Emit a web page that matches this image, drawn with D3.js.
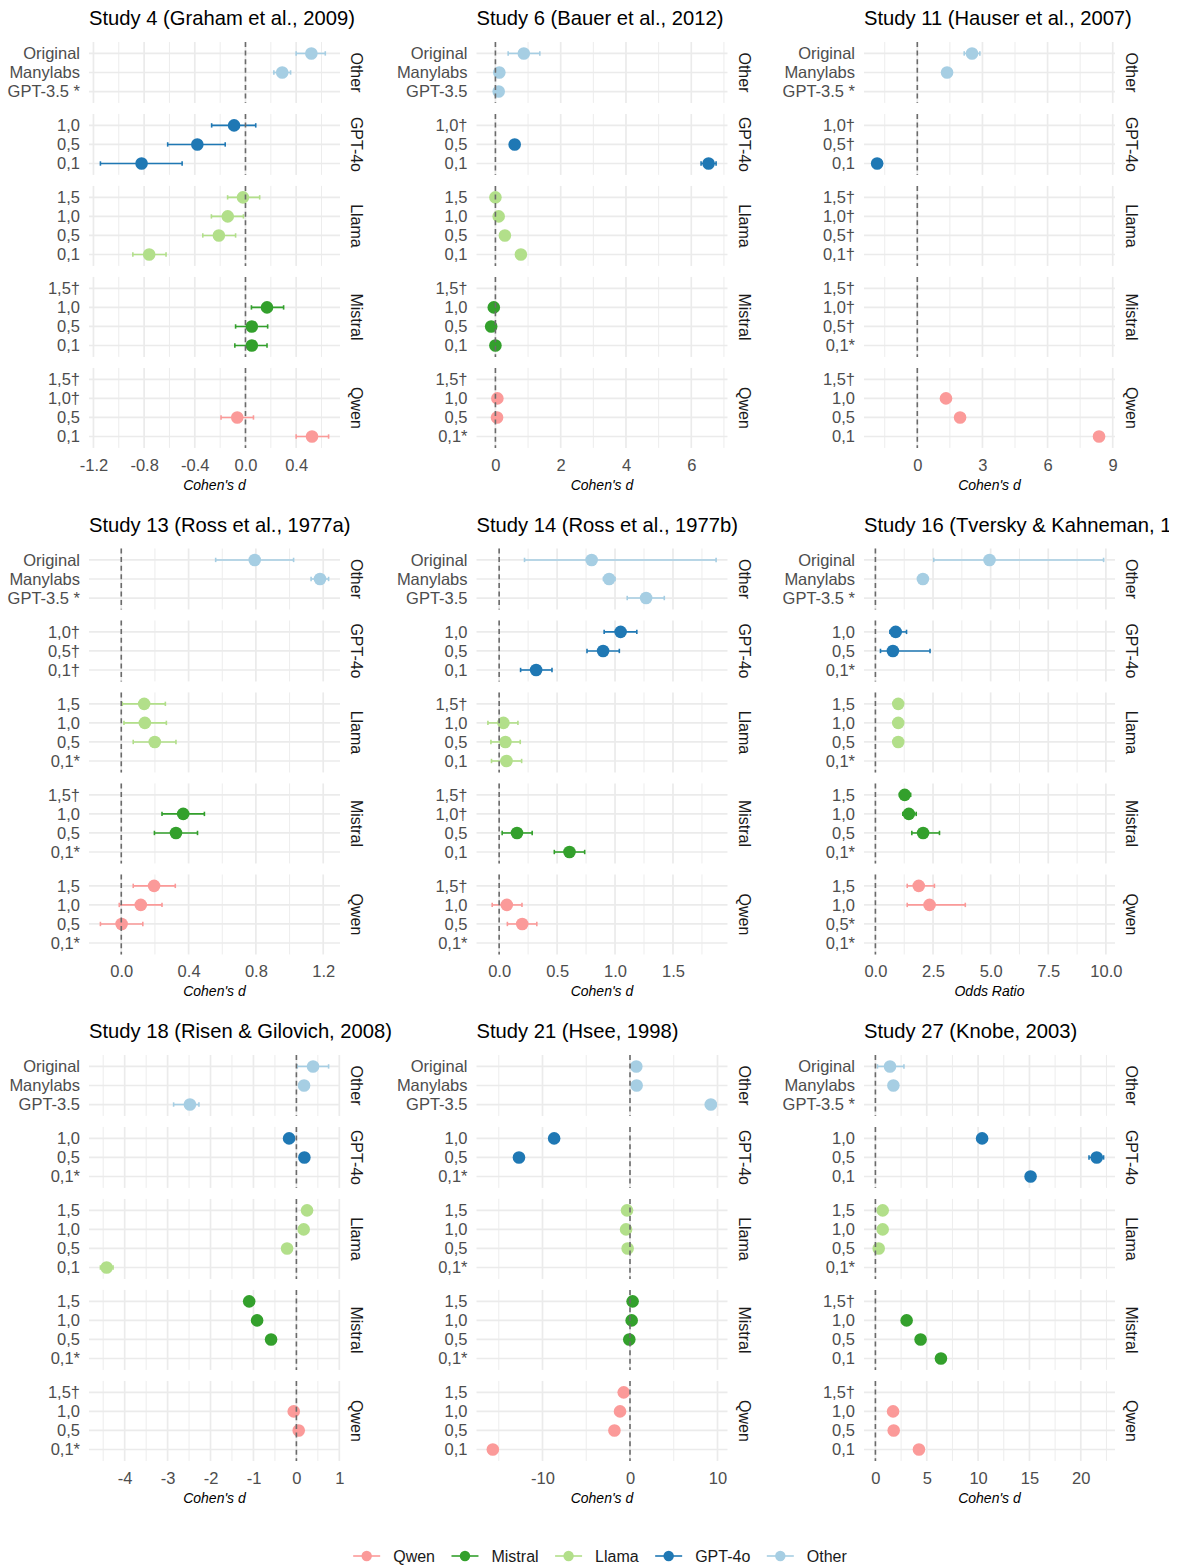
<!DOCTYPE html>
<html>
<head>
<meta charset="utf-8">
<script src="https://cdn.jsdelivr.net/npm/d3@7"></script>
<style>
  body { margin: 0; background: #fff; }
  text { font-family: "Liberation Sans", Arial, Helvetica, sans-serif; }
</style>
</head>
<body>
<svg id="chart" width="1181" height="1567"></svg>
<script>
// facets (top to bottom) and the conditions inside each facet (top to bottom)
const models = ["Other", "GPT-4o", "Llama", "Mistral", "Qwen"];
const levels = {
  "Other": ["Original", "Manylabs", "GPT-3.5"],
  "GPT-4o": ["1,0", "0,5", "0,1"],
  "Llama": ["1,5", "1,0", "0,5", "0,1"],
  "Mistral": ["1,5", "1,0", "0,5", "0,1"],
  "Qwen": ["1,5", "1,0", "0,5", "0,1"]
};
const colors = { "Qwen": "#FB9A99", "Mistral": "#33A02C", "Llama": "#B2DF8A", "GPT-4o": "#1F78B4", "Other": "#A6CEE3" };
const legendOrder = ["Qwen", "Mistral", "Llama", "GPT-4o", "Other"];

const titles = [
  "Study 4 (Graham et al., 2009)", "Study 6 (Bauer et al., 2012)", "Study 11 (Hauser et al., 2007)",
  "Study 13 (Ross et al., 1977a)", "Study 14 (Ross et al., 1977b)", "Study 16 (Tversky & Kahneman, 1974)",
  "Study 18 (Risen & Gilovich, 2008)", "Study 21 (Hsee, 1998)", "Study 27 (Knobe, 2003)"
];
const xTitles = ["Cohen's d", "Cohen's d", "Cohen's d", "Cohen's d", "Cohen's d", "Odds Ratio", "Cohen's d", "Cohen's d", "Cohen's d"];
const xTicks = [
  [-1.2, -0.8, -0.4, 0, 0.4], [0, 2, 4, 6], [0, 3, 6, 9],
  [0, 0.4, 0.8, 1.2], [0, 0.5, 1, 1.5], [0, 2.5, 5, 7.5, 10],
  [-4, -3, -2, -1, 0, 1], [-10, 0, 10], [0, 5, 10, 15, 20]
];
const xTickLabels = [
  ["-1.2", "-0.8", "-0.4", "0.0", "0.4"], ["0", "2", "4", "6"], ["0", "3", "6", "9"],
  ["0.0", "0.4", "0.8", "1.2"], ["0.0", "0.5", "1.0", "1.5"], ["0.0", "2.5", "5.0", "7.5", "10.0"],
  ["-4", "-3", "-2", "-1", "0", "1"], ["-10", "0", "10"], ["0", "5", "10", "15", "20"]
];

// 18 entries per study, order: Original, Manylabs, GPT-3.5 | GPT-4o 1,0 0,5 0,1 | Llama 1,5 1,0 0,5 0,1 | Mistral ... | Qwen ...
const suffixes = [
  ["", "", " *", "", "", "", "", "", "", "", "†", "", "", "", "†", "†", "", ""],
  ["", "", "", "†", "", "", "", "", "", "", "†", "", "", "", "†", "", "", "*"],
  ["", "", " *", "†", "†", "", "†", "†", "†", "†", "†", "†", "†", "*", "†", "", "", ""],
  ["", "", " *", "†", "†", "†", "", "", "", "*", "†", "", "", "*", "", "", "", "*"],
  ["", "", "", "", "", "", "†", "", "", "", "†", "†", "", "", "†", "", "", "*"],
  ["", "", " *", "", "", "*", "", "", "", "*", "", "", "", "*", "", "", "*", "*"],
  ["", "", "", "", "", "*", "", "", "", "", "", "", "", "*", "†", "", "", "*"],
  ["", "", "", "", "", "*", "", "", "", "*", "", "", "", "*", "", "", "", ""],
  ["", "", " *", "", "", "", "", "", "", "*", "†", "", "", "", "†", "", "", ""]
];
const estimates = [
  [0.52, 0.29, null, -0.09, -0.38, -0.82, -0.02, -0.14, -0.21, -0.76, null, 0.17, 0.05, 0.05, null, null, -0.065, 0.525],
  [0.87, 0.12, 0.10, null, 0.59, 6.53, 0.00, 0.10, 0.29, 0.78, null, -0.05, -0.13, 0.00, null, 0.06, 0.05, null],
  [2.52, 1.37, null, null, null, -1.85, null, null, null, null, null, null, null, null, null, 1.32, 1.97, 8.37],
  [0.793, 1.181, null, null, null, null, 0.136, 0.14, 0.199, null, null, 0.368, 0.325, null, 0.195, 0.116, 0.002, null],
  [0.798, 0.949, 1.268, 1.048, 0.897, 0.319, null, 0.037, 0.054, 0.063, null, null, 0.154, 0.607, null, 0.066, 0.199, null],
  [4.95, 2.06, null, 0.88, 0.76, null, 0.99, 0.99, 0.99, null, 1.27, 1.45, 2.07, null, 1.88, 2.35, null, null],
  [0.388, 0.178, -2.48, -0.17, 0.186, null, 0.248, 0.17, -0.217, -4.42, -1.10, -0.915, -0.59, null, null, -0.062, 0.054, null],
  [0.72, 0.76, 9.24, -8.67, -12.69, null, -0.34, -0.45, -0.27, null, 0.30, 0.19, -0.08, null, -0.72, -1.14, -1.78, -15.68],
  [1.42, 1.75, null, 10.39, 21.55, 15.11, 0.71, 0.71, 0.32, null, null, 3.04, 4.40, 6.38, null, 1.72, 1.78, 4.24]
];
const lower = [
  [0.40, 0.224, null, -0.267, -0.614, -1.145, -0.141, -0.269, -0.337, -0.889, null, 0.047, -0.078, -0.084, null, null, -0.193, 0.40],
  [0.39, null, null, null, null, 6.30, null, null, null, null, null, null, -0.23, null, null, null, null, null],
  [2.16, null, null, null, null, -1.93, null, null, null, null, null, null, null, null, null, null, null, 8.16],
  [0.561, 1.128, null, null, null, null, 0.006, 0.016, 0.071, null, null, 0.242, 0.197, null, 0.071, -0.012, -0.124, null],
  [0.219, 0.90, 1.105, 0.906, 0.758, 0.185, null, -0.097, -0.071, -0.066, null, null, 0.026, 0.476, null, -0.06, 0.071, null],
  [2.53, 1.9, null, 0.63, 0.22, null, null, null, null, null, 1.05, 1.19, 1.58, null, 1.38, 1.38, null, null],
  [0.02, null, -2.86, null, null, null, null, null, null, -4.565, null, null, null, null, null, null, null, null],
  [null, null, 8.64, null, null, null, null, null, null, null, null, null, null, null, null, null, null, -16.24],
  [0.2, null, null, null, 20.8, null, null, null, null, null, null, null, null, null, null, null, null, null]
];
const upper = [
  [0.63, 0.356, null, 0.081, -0.16, -0.50, 0.112, -0.016, -0.078, -0.627, null, 0.301, 0.175, 0.17, null, null, 0.063, 0.656],
  [1.36, null, null, null, null, 6.76, null, null, null, null, null, null, -0.03, null, null, null, null, null],
  [2.88, null, null, null, null, -1.76, null, null, null, null, null, null, null, null, null, null, null, 8.58],
  [1.024, 1.232, null, null, null, null, 0.262, 0.268, 0.325, null, null, 0.494, 0.453, null, 0.321, 0.242, 0.128, null],
  [1.872, 1.00, 1.425, 1.188, 1.037, 0.456, null, 0.162, 0.182, 0.194, null, null, 0.285, 0.738, null, 0.197, 0.325, null],
  [9.90, 2.2, null, 1.35, 2.37, null, null, null, null, null, 1.53, 1.77, 2.78, null, 2.56, 3.90, null, null],
  [0.75, null, -2.27, null, null, null, null, null, null, -4.27, null, null, null, null, null, null, null, null],
  [null, null, 9.84, null, null, null, null, null, null, null, null, null, null, null, null, null, null, -15.12],
  [2.78, null, null, null, 22.22, null, null, null, null, null, null, null, null, null, null, null, null, null]
];

const svg = d3.select("#chart");
const panelW = 251, unit = 19.05, facetGap = 11;
const colLeft = [89, 476.5, 864];
const rowTop = [42, 548.5, 1055];
const grid = "#EBEBEB";

const defs = svg.append("defs");

titles.forEach((title, s) => {
  const left = colLeft[s % 3], top = rowTop[Math.floor(s / 3)];

  let k = 0;
  const rows = [];
  models.forEach(m => levels[m].forEach(l => {
    rows.push({ model: m, level: l, est: estimates[s][k], lo: lower[s][k], hi: upper[s][k], suffix: suffixes[s][k] });
    k++;
  }));

  // x scale trained on points, intervals and the reference line, with 5% expansion
  const vals = [0];
  rows.forEach(r => [r.est, r.lo, r.hi].forEach(v => { if (v != null) vals.push(v); }));
  const [mn, mx] = d3.extent(vals);
  const pad = (mx - mn) * 0.05;
  const x = d3.scaleLinear().domain([mn - pad, mx + pad]).range([left, left + panelW]);
  const ticks = xTicks[s];
  const step = ticks[1] - ticks[0];
  const minor = d3.range(ticks[0] - step / 2, x.domain()[1], step).filter(v => v > x.domain()[0]);

  const panel = svg.append("g");
  let y0 = top;
  models.forEach(m => {
    const h = (levels[m].length + 0.2) * unit;
    const y = d3.scalePoint().domain(levels[m]).range([y0, y0 + h]).padding(0.6);
    const data = rows.filter(r => r.model === m);
    const g = panel.append("g");

    g.selectAll(".minor").data(minor).join("line")
      .attr("x1", d => x(d)).attr("x2", d => x(d))
      .attr("y1", y0).attr("y2", y0 + h)
      .attr("stroke", grid).attr("stroke-width", 0.9);
    g.selectAll(".major").data(ticks).join("line")
      .attr("x1", d => x(d)).attr("x2", d => x(d))
      .attr("y1", y0).attr("y2", y0 + h)
      .attr("stroke", grid).attr("stroke-width", 1.7);
    g.selectAll(".hgrid").data(levels[m]).join("line")
      .attr("x1", left).attr("x2", left + panelW)
      .attr("y1", d => y(d)).attr("y2", d => y(d))
      .attr("stroke", grid).attr("stroke-width", 1.7);

    const ci = data.filter(d => d.est != null && d.lo != null);
    const eb = g.selectAll(".eb").data(ci).join("g")
      .attr("stroke", d => colors[d.model]).attr("stroke-width", 1.6);
    eb.append("line").attr("x1", d => x(d.lo)).attr("x2", d => x(d.hi)).attr("y1", d => y(d.level)).attr("y2", d => y(d.level));
    eb.append("line").attr("x1", d => x(d.lo)).attr("x2", d => x(d.lo)).attr("y1", d => y(d.level) - 2.2).attr("y2", d => y(d.level) + 2.2);
    eb.append("line").attr("x1", d => x(d.hi)).attr("x2", d => x(d.hi)).attr("y1", d => y(d.level) - 2.2).attr("y2", d => y(d.level) + 2.2);

    g.selectAll(".pt").data(data.filter(d => d.est != null)).join("circle")
      .attr("cx", d => x(d.est)).attr("cy", d => y(d.level)).attr("r", 6.3)
      .attr("fill", d => colors[d.model]);

    g.append("line")
      .attr("x1", x(0)).attr("x2", x(0)).attr("y1", y0).attr("y2", y0 + h)
      .attr("stroke", "#6b6b6b").attr("stroke-width", 1.6).attr("stroke-dasharray", "5,3.6");

    // y axis: condition labels with their markers
    const sfx = new Map(data.map(d => [d.level, d.suffix]));
    g.append("g").attr("transform", `translate(${left},0)`)
      .call(d3.axisLeft(y).tickSize(0).tickPadding(9).tickFormat(l => l + sfx.get(l)))
      .call(a => a.select(".domain").remove())
      .attr("font-size", 16.5).attr("font-family", null).attr("color", "#4D4D4D");

    // strip label
    g.append("text")
      .attr("transform", `translate(${left + panelW + 17},${y0 + h / 2}) rotate(90)`)
      .attr("text-anchor", "middle").attr("dy", "0.35em")
      .attr("font-size", 16).attr("fill", "#1A1A1A")
      .text(m);

    y0 += h + facetGap;
  });
  const bottom = y0 - facetGap;

  panel.append("g").attr("transform", `translate(0,${bottom})`)
    .call(d3.axisBottom(x).tickValues(ticks).tickSize(0).tickPadding(11).tickFormat((d, i) => xTickLabels[s][i]))
    .call(a => a.select(".domain").remove())
    .attr("font-size", 16.5).attr("font-family", null).attr("color", "#4D4D4D");

  panel.append("text")
    .attr("x", left + panelW / 2).attr("y", bottom + 42)
    .attr("text-anchor", "middle").attr("font-size", 14).attr("font-style", "italic")
    .attr("fill", "#000").text(xTitles[s]);

  // titles are clipped to their cell, as in the source figure
  const clipId = "clip" + s;
  defs.append("clipPath").attr("id", clipId).append("rect")
    .attr("x", left - 90).attr("y", top - 45).attr("width", 90 + 305).attr("height", 40);
  panel.append("text")
    .attr("clip-path", `url(#${clipId})`)
    .attr("x", left).attr("y", top - 17)
    .attr("font-size", 20.2).attr("fill", "#000")
    .text(title);
});

// legend
const legendY = 1556;
const legend = svg.append("g");
const items = legend.selectAll("g").data(legendOrder).join("g");
items.append("line").attr("x1", 0).attr("x2", 27).attr("y1", 0).attr("y2", 0)
  .attr("stroke", d => colors[d]).attr("stroke-width", 1.6);
items.append("circle").attr("cx", 13.5).attr("cy", 0).attr("r", 5.2).attr("fill", d => colors[d]);
items.append("text").attr("x", 40).attr("dy", "0.35em").attr("font-size", 16).attr("fill", "#1A1A1A").text(d => d);
let widths = [];
items.each(function () { widths.push(40 + d3.select(this).select("text").node().getComputedTextLength()); });
const total = d3.sum(widths) + 16.5 * (widths.length - 1);
let cx = 600 - total / 2;
items.attr("transform", (d, i) => { const t = `translate(${cx},${legendY})`; cx += widths[i] + 16.5; return t; });
</script>
</body>
</html>
